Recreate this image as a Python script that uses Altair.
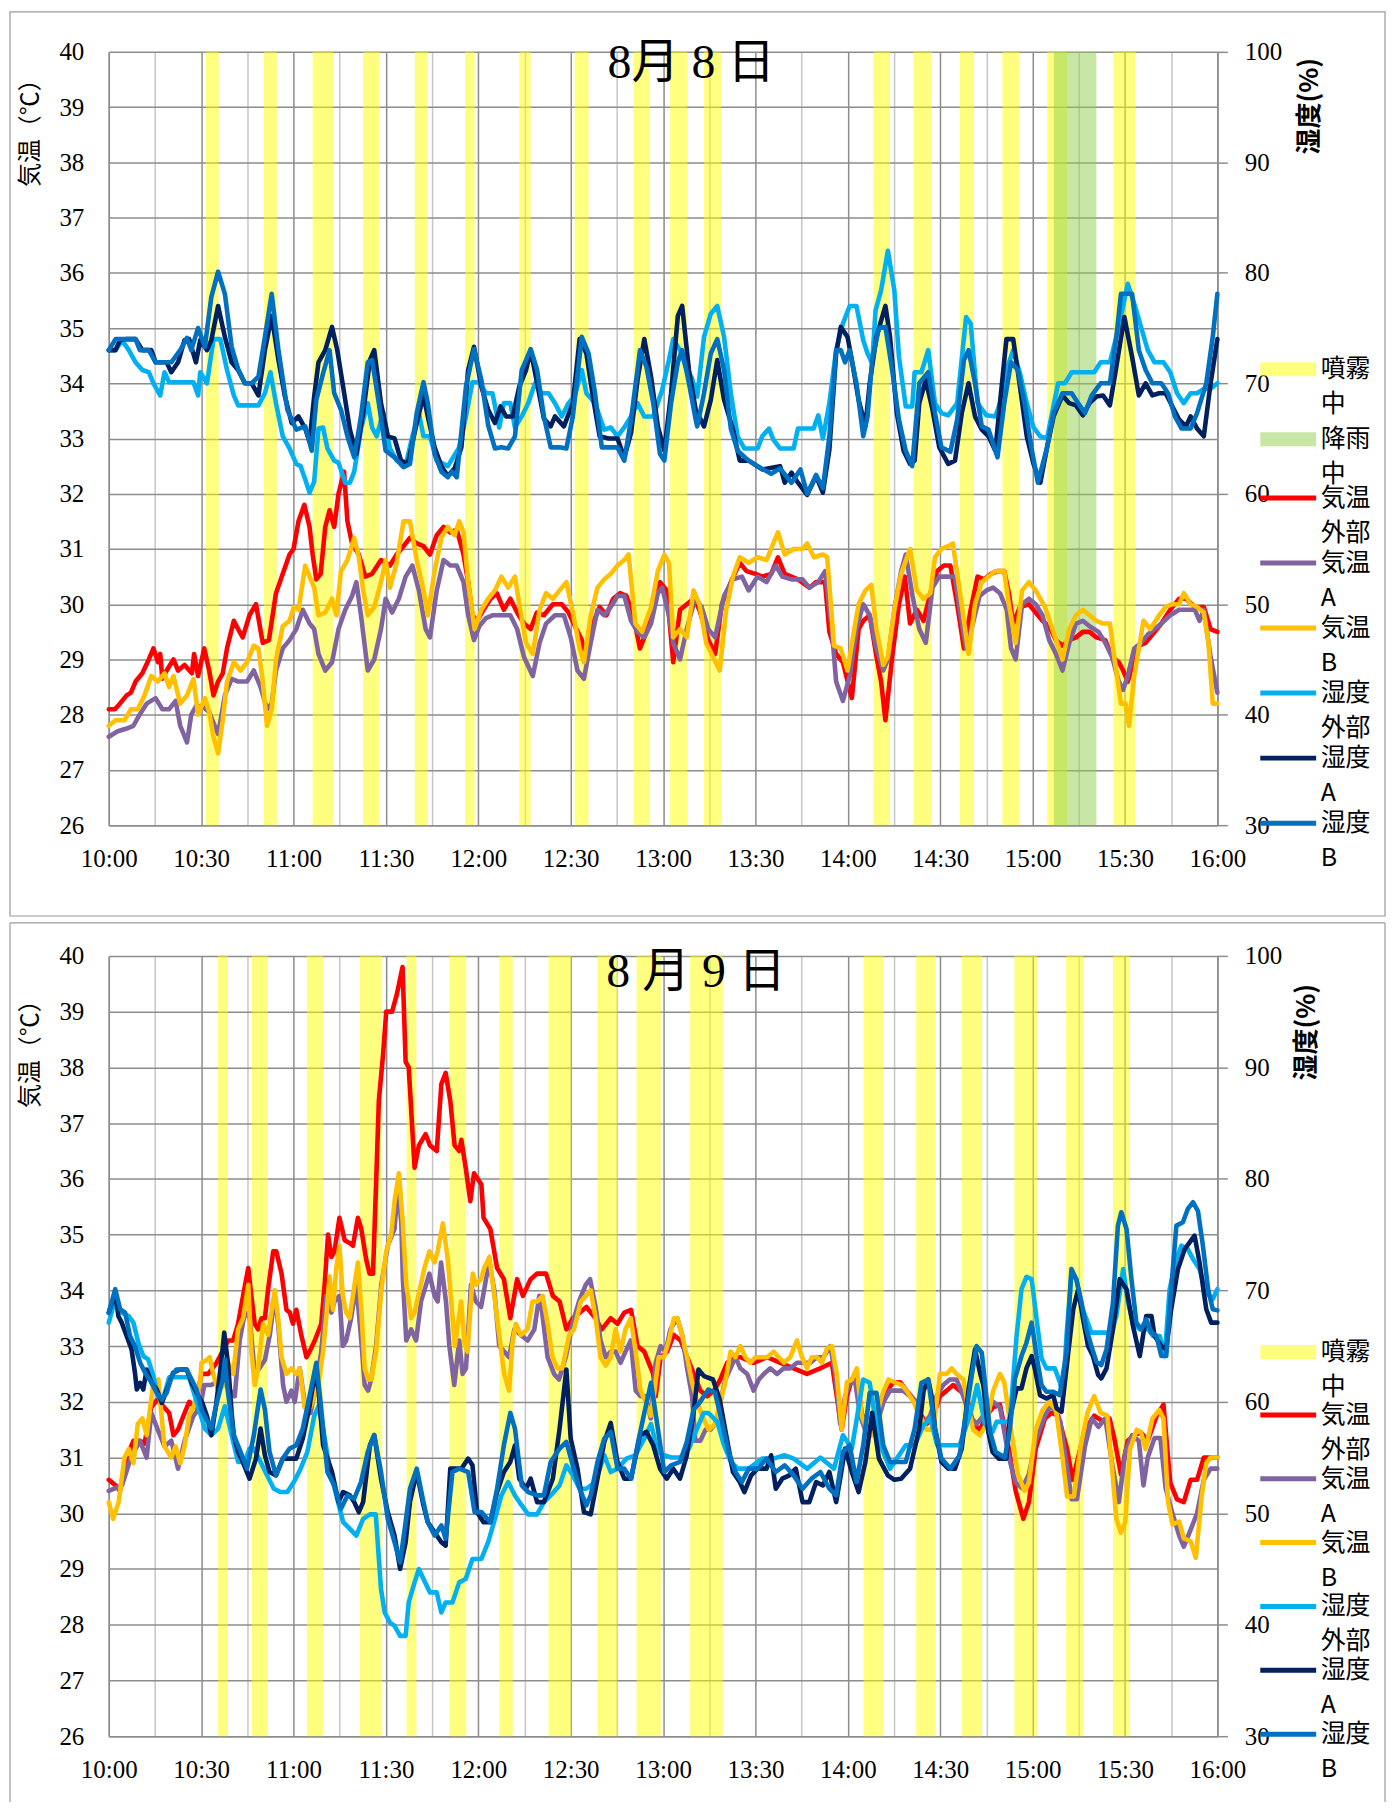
import altair as alt
import pandas as pd

# ---------------- data ----------------
SERIES = ["気温外部", "気温A", "気温B", "湿度外部", "湿度A", "湿度B"]
SERIES_COLORS = ["#FF0000", "#8064A2", "#FFC000", "#00B0F0", "#002060", "#0070C0"]
BAND_KINDS = ["噴霧中", "降雨中"]
BAND_COLORS = ["#FFFF00", "#92D050"]
DAY_TITLES = ["8月 8 日", "8 月 9 日"]

X_TICKS = list(range(0, 361, 15))          # minutes after 10:00
TEMP_TICKS = list(range(26, 41))
HUM_TICKS = list(range(30, 101, 10))

# spray / rain periods (minutes after 10:00)
AUG8_SPRAY = [(31.5, 35.7), (50.4, 54.6), (66.2, 72.9), (82.6, 88.0), (99.4, 103.6), (115.7, 118.8),
              (133.3, 137.0), (151.3, 155.8), (170.4, 175.7), (182.3, 187.8), (193.3, 198.8),
              (248.3, 253.7), (261.3, 267.3), (276.3, 281.0), (290.2, 295.7), (304.7, 311.2), (326.2, 333.5)]
AUG8_RAIN = [(306.9, 320.7)]
AUG9_SPRAY = [(35.5, 38.7), (46.4, 51.7), (64.3, 69.6), (81.6, 88.8), (96.7, 99.9), (110.6, 116.1),
              (126.8, 131.2), (142.8, 150.3), (158.7, 165.2), (171.4, 179.3), (188.8, 199.4),
              (245.1, 251.6), (262.2, 268.6), (277.0, 283.6), (294.1, 301.5), (310.9, 316.4), (326.1, 331.3)]
AUG9_RAIN = []

AUG8_TEMP_OUT = [(0,28.1),(2,28.1),(3.6,28.2),(5.8,28.35),(7.2,28.4),(8.7,28.6),(10.9,28.75),(13,29.0),(14.5,29.2),(16,28.95),(16.7,29.1),(17.4,28.65),(18.8,28.8),(21,29.0),(22.5,28.8),(24.6,28.9),(27,28.75),(27.7,29.1),(29,28.7),(31,29.2),(32.6,28.8),(34,28.35),(35.5,28.6),(37,28.75),(38.4,29.2),(40.6,29.7),(42,29.55),(43.5,29.4),(45.7,29.8),(47.8,30.0),(50,29.3),(52,29.35),(54.3,30.2),(56.5,30.55),(58.7,30.9),(60,31.0),(61.6,31.5),(63.5,31.8),(65.2,31.4),(66.2,30.9),(67.4,30.45),(68.8,30.55),(70.3,31.4),(71.7,31.7),(73.2,31.4),(74.6,32.0),(76.4,32.4),(77.5,31.5),(79,31.1),(81.2,30.9),(83.3,30.5),(85.5,30.55),(88.4,30.8),(91.3,30.7),(93.5,30.9),(95.7,31.05),(97.8,31.2),(100,31.1),(102.2,31.05),(104.3,30.9),(106.5,31.25),(108.7,31.4),(110.9,31.3),(113,31.35),(115.2,30.9),(116.7,30.4),(118.1,29.8),(119.6,29.7),(121.7,29.9),(124,30.1),(126,30.2),(128.3,29.9),(130.4,30.1),(132.6,29.85),(134.8,29.65),(137,29.55),(139,29.85),(141.3,29.8),(144.2,30.0),(147.1,30.0),(149.3,29.85),(151.4,29.6),(153.6,29.35),(155,29.0),(157.2,29.65),(159.4,29.95),(161.6,29.8),(163.8,30.1),(166,30.2),(168.1,30.15),(170.3,29.8),(172.5,29.2),(174.6,29.5),(176.8,30.1),(179,30.4),(181.2,30.25),(183.3,28.95),(185.5,29.9),(187.7,30.0),(189.9,30.1),(191.8,29.9),(194.7,29.35),(196.9,29.1),(199.1,30.0),(202,30.4),(204.9,30.75),(207.1,30.6),(210,30.55),(212.2,30.5),(215.1,30.55),(217.3,30.85),(219.5,30.55),(223.8,30.45),(227.5,30.3),(229.7,30.4),(232.6,30.4),(234,29.5),(236.2,29.1),(238.4,28.95),(240.6,28.45),(241.3,28.3),(243.5,29.55),(245,29.7),(247.1,29.8),(249.3,29.05),(250.8,28.6),(252.2,27.9),(254.4,29.05),(256.6,30.0),(258.5,30.5),(260.2,29.65),(262.4,29.9),(264.6,29.7),(266.8,30.2),(269,30.6),(271.2,30.7),(273.3,30.7),(275.5,30.0),(277.7,29.2),(279.9,29.9),(282.1,30.5),(284.3,30.45),(286.5,30.55),(288.6,30.6),(290.8,30.6),(292.3,30.2),(293.7,29.65),(295.9,29.95),(298.8,30.0),(301,29.85),(303.2,29.7),(305.4,29.6),(307.6,29.35),(309.7,29.25),(311.9,29.35),(314.1,29.4),(316.3,29.5),(318.5,29.5),(320.7,29.4),(323.6,29.35),(325.8,29.05),(328,28.95),(329.4,28.8),(330.9,28.6),(333,29.0),(334.5,29.25),(336.7,29.3),(338.9,29.45),(341.8,29.65),(344.7,29.9),(347.6,30.1),(349.8,30.1),(352.7,29.95),(355.6,29.95),(357.8,29.55),(360,29.5)]

AUG8_TEMP_A = [(0,27.6),(2.9,27.7),(5.8,27.75),(8,27.8),(10,28.0),(12.3,28.2),(15.2,28.3),(17.4,28.1),(19.6,28.1),(21.7,28.25),(23.2,27.8),(25.4,27.5),(26.8,28.0),(28.3,28.15),(30.4,28.15),(32.6,28.05),(34,27.85),(35.5,27.65),(37.7,28.35),(39.9,28.65),(42,28.6),(44.9,28.6),(47.1,28.8),(49.3,28.5),(51.4,28.1),(52.9,28.2),(54.3,28.8),(56.5,29.2),(58.7,29.35),(60.9,29.55),(63,29.9),(65.2,29.65),(66.7,29.55),(68.1,29.1),(70.3,28.8),(72.5,28.95),(74.6,29.55),(76.8,29.9),(79,30.15),(80.4,30.4),(81.9,29.8),(84.1,28.8),(86.2,29.0),(88.4,29.55),(89.9,30.1),(92,29.85),(94.2,30.1),(96.4,30.5),(98.6,30.7),(100.7,30.25),(102.9,29.55),(104.3,29.4),(106.5,30.25),(108.7,30.8),(110.9,30.7),(113,30.7),(115.2,30.4),(116.7,29.8),(118.6,29.35),(120.3,29.6),(122.5,29.75),(124.6,29.8),(127.5,29.8),(130.4,29.8),(132.6,29.55),(134.8,29.05),(137.7,28.7),(139.9,29.3),(142,29.65),(144.9,29.8),(147.8,29.8),(150,29.4),(152.2,28.8),(154.3,28.65),(156.5,29.3),(158.7,29.9),(160.9,29.8),(163,29.95),(165.2,30.15),(167.4,30.15),(169.6,29.7),(171.7,29.5),(173.9,29.4),(176.1,29.65),(178.3,30.2),(179.7,30.3),(181.9,29.8),(183.3,29.3),(185.5,29.0),(187.7,29.55),(190.4,30.1),(192.5,29.95),(194.7,29.55),(196.9,29.4),(199.8,30.15),(202.7,30.45),(205.6,30.5),(207.8,30.25),(210.7,30.5),(213.6,30.4),(216.6,30.7),(218.7,30.5),(221.7,30.45),(225.3,30.45),(227.5,30.3),(230.4,30.4),(232.6,30.6),(234.8,29.55),(236.2,28.6),(238.4,28.25),(240.6,28.7),(242.8,29.55),(245,30.0),(247.1,29.8),(249.3,29.2),(251.5,28.8),(253,29.0),(255.1,29.9),(257.3,30.6),(258.8,30.9),(261,30.15),(263.2,29.55),(265.3,29.3),(267.5,30.3),(269.7,30.5),(274.8,30.5),(276.3,29.9),(278.4,29.2),(280.6,29.65),(282.8,30.15),(285,30.25),(287.2,30.3),(289.4,30.2),(291.6,29.9),(293,29.2),(294.5,29.0),(296.6,30.0),(298.8,30.1),(301,30.0),(303.2,29.8),(305.4,29.35),(307.6,29.1),(309.7,28.8),(311.9,29.3),(314.1,29.65),(316.3,29.7),(318.5,29.6),(321.4,29.5),(323.6,29.3),(325.8,29.05),(328,28.6),(329.4,28.45),(330.9,28.7),(333,29.2),(335.2,29.3),(337.4,29.45),(339.6,29.55),(341.8,29.65),(344.7,29.8),(347.6,29.9),(352.7,29.9),(354.2,29.7),(355.6,29.9),(357.8,29.05),(360,28.4)]

AUG8_TEMP_B = [(0,27.8),(2.2,27.9),(5.1,27.9),(7.2,28.1),(9.4,28.1),(11.6,28.35),(13.8,28.7),(15.9,28.6),(18.1,28.75),(19.6,28.5),(21,28.7),(23.2,28.2),(25.4,28.35),(27.5,28.65),(29,28.0),(31.2,28.3),(32.6,28.05),(34,27.6),(35.5,27.3),(37,27.9),(38.4,28.6),(40.6,28.95),(42.8,28.8),(44.9,28.95),(47.1,29.25),(48.6,29.2),(50,28.6),(51.4,27.8),(52.9,28.1),(54.3,29.0),(56.5,29.6),(58.7,29.7),(60.1,29.95),(61.6,29.9),(63.8,30.7),(65.2,30.5),(66.7,30.3),(68.1,29.8),(70.3,29.85),(72.5,30.1),(73.9,29.8),(75.4,30.6),(77.5,30.8),(79.7,31.2),(81.2,30.85),(82.6,30.25),(84.1,29.8),(86.2,29.95),(88.4,30.4),(89.9,30.8),(91.3,30.3),(93.5,30.75),(95.7,31.5),(97.8,31.5),(100,30.8),(102.2,30.25),(103.6,29.8),(105.8,30.6),(108,31.2),(110.1,31.4),(112.3,31.25),(113.8,31.5),(115.2,31.3),(116.7,30.4),(118.8,29.55),(121,29.9),(123.2,30.1),(125.4,30.25),(127.5,30.5),(129.7,30.3),(131.9,30.5),(133.3,30.0),(135.5,29.3),(137.7,29.1),(139.9,29.9),(142,30.2),(144.2,30.1),(146.4,30.25),(148.6,30.4),(150.7,29.85),(152.9,29.2),(154.3,28.95),(156.5,29.8),(158.7,30.3),(160.9,30.45),(163,30.55),(165.2,30.7),(167.4,30.8),(168.8,30.9),(171,29.65),(173.2,29.5),(176.1,29.95),(178.3,30.6),(180.4,30.9),(181.9,30.75),(183.3,29.4),(185.5,29.55),(187.7,29.4),(189.9,30.25),(191.8,30.0),(194,29.3),(196.2,29.05),(198.4,28.8),(200.5,29.9),(202.7,30.5),(204.9,30.85),(207.8,30.75),(210.7,30.85),(213.6,30.8),(215.8,31.1),(217.3,31.3),(219.5,30.9),(222.4,31.0),(225.3,31.0),(226.8,31.1),(229,30.85),(231.9,30.9),(233.3,30.85),(235.5,29.25),(237.7,29.2),(239.9,28.8),(242.1,29.55),(243.5,30.0),(245.7,30.25),(247.6,30.35),(249.3,29.55),(251.5,28.9),(253,29.05),(255.1,29.9),(257.3,30.55),(260.2,31.0),(262.4,30.25),(264.6,30.1),(266.8,30.2),(268.3,30.85),(270.4,31.0),(272.6,31.05),(274.1,31.1),(276.3,30.25),(279.2,29.1),(281.3,30.0),(283.5,30.4),(285.7,30.5),(287.9,30.6),(290.8,30.6),(292.3,30.0),(294.5,29.3),(296.6,30.25),(298.8,30.4),(301,30.25),(304,29.95),(306.1,29.6),(308.3,29.25),(309.7,29.0),(311.9,29.55),(314.1,29.8),(316.3,29.9),(318.5,29.8),(320.7,29.7),(322.9,29.65),(325.1,29.65),(326.5,29.05),(328.7,28.2),(330.2,28.2),(331.3,27.8),(333,28.7),(334.5,29.2),(336,29.7),(338.2,29.55),(341.1,29.8),(343.2,29.95),(345.4,30.0),(347.6,30.0),(349.1,30.2),(351.3,30.0),(353.4,29.95),(355.6,29.85),(357.1,29.3),(358.5,28.2),(360,28.2)]

AUG8_HUM_OUT = [(0,73.0),(2.2,73.0),(4.3,73.9),(6.5,73.0),(8.7,71.9),(10.9,71.2),(13,71.0),(14.5,70.0),(16.7,68.9),(18.1,71.0),(19.6,70.1),(27.5,70.1),(29,68.9),(29.7,71.0),(31.9,70.0),(34,74.0),(36.2,74.0),(38.4,71.2),(40.6,68.9),(42,68.0),(48.6,68.0),(50.7,69.1),(52.5,71.0),(54.3,68.2),(56.5,65.2),(58.7,64.1),(60.9,62.7),(62.3,62.5),(63.8,61.3),(65.2,60.1),(66.7,61.1),(68.1,65.9),(69.6,66.0),(71,64.1),(73.2,63.0),(74.6,62.8),(76.8,61.0),(78.3,61.0),(79.7,62.0),(82,66.0),(84.1,68.2),(85.5,66.0),(87,65.2),(89.1,67.4),(91.3,64.1),(93.5,63.0),(96.4,62.6),(98.6,65.2),(100.7,67.3),(102.2,65.2),(104.3,65.2),(106.5,63.0),(110.1,62.5),(113.8,64.2),(116,67.0),(118.1,70.1),(120.3,70.1),(122.5,69.1),(124.6,69.1),(126.8,66.0),(128.3,68.2),(130.4,68.2),(131.9,66.0),(134.1,67.0),(136.2,68.2),(138.4,70.0),(140.6,69.1),(142.8,69.1),(144.9,68.2),(147.1,67.0),(149.3,68.2),(151.4,68.9),(153.6,71.2),(155.1,69.1),(157.9,68.2),(160.9,65.8),(163,66.0),(165.2,65.2),(167.4,66.0),(169.6,67.0),(171.7,68.2),(173.9,67.0),(176.8,67.0),(179.7,69.4),(181.9,72.1),(183.3,74.0),(185.5,73.0),(187.7,71.2),(189.3,70.5),(191.1,68.8),(193.3,74.2),(195.5,76.3),(197.6,77.0),(199.8,74.2),(202,69.1),(204.2,65.2),(206.4,64.1),(210.7,64.1),(212.2,65.2),(214.4,65.9),(215.8,64.9),(218,64.1),(222.4,64.1),(223.8,65.9),(228.9,65.9),(230.4,67.1),(231.9,65.0),(234,68.2),(236.2,73.0),(238.4,75.4),(240.6,77.0),(242.8,77.0),(245,73.9),(246.4,72.7),(247.9,71.8),(249,76.6),(250.8,78.4),(253,82.0),(255.1,78.4),(256.6,72.4),(258.8,67.9),(260.9,67.9),(261.7,71.0),(263.9,71.0),(266.1,73.0),(268.3,68.2),(270.4,67.3),(272.6,67.1),(275.5,68.2),(278.4,76.0),(279.9,75.4),(282.1,68.2),(285,67.1),(287.9,67.0),(289.4,68.2),(291.5,71.2),(293.7,73.0),(295.9,70.9),(298.1,68.2),(300.3,66.0),(302.5,65.2),(304.7,65.0),(306.1,67.0),(308.3,70.0),(310.5,70.0),(312.7,71.0),(320,71.0),(322.1,71.9),(325.1,71.9),(327.2,74.2),(329.4,77.0),(330.9,79.0),(333,77.2),(335.2,75.1),(337.4,73.0),(339.6,71.9),(342.5,71.9),(344.7,71.0),(346.9,69.1),(349.1,68.2),(351.3,69.1),(353.4,69.1),(355.6,69.5),(357.8,69.5),(360,70.0)]

AUG8_HUM_A = [(0,73.0),(2.2,73.0),(3.6,73.9),(5.8,74.0),(8.7,74.0),(10.9,73.0),(13.8,73.0),(15.2,71.9),(18.8,71.9),(20.3,71.0),(22.5,71.9),(24.6,73.9),(26.1,74.0),(28.3,71.9),(29.7,73.9),(31.9,73.0),(33.3,73.9),(35.5,77.0),(37.7,74.2),(39.9,71.9),(42,71.2),(44.2,70.0),(46.4,70.0),(48.6,68.9),(50.7,73.0),(52.9,76.1),(55.1,72.1),(57.2,68.8),(59.4,66.4),(61.6,67.0),(63.8,65.9),(65.2,64.7),(66.7,68.8),(68.1,71.9),(70.3,73.0),(72.5,75.1),(74.2,73.0),(76.1,69.7),(78.3,65.8),(80.4,63.6),(82.6,67.3),(84.8,72.1),(86.2,73.0),(88.4,68.2),(90.6,65.2),(92.8,65.0),(94.9,63.0),(97.1,62.7),(100,66.4),(102.2,68.9),(103.6,67.0),(105.8,64.2),(108,62.5),(110.1,61.6),(112.3,62.3),(114.5,64.2),(116.7,71.2),(118.6,73.3),(121,69.7),(123.2,67.6),(125.4,66.4),(127.2,67.9),(129,67.0),(131.2,67.0),(133.3,69.7),(135.5,71.2),(137,73.0),(139.1,70.0),(141.3,66.8),(143.5,66.1),(144.9,67.0),(147.8,66.1),(150.7,68.2),(152.9,74.0),(155.1,72.7),(157.2,68.8),(159.4,65.2),(162.3,65.0),(165.2,65.0),(167.4,63.3),(169.6,65.5),(171.7,70.3),(173.9,74.0),(176.1,70.6),(178.3,66.1),(180.4,63.9),(182.6,69.1),(184.8,76.1),(186.2,77.0),(188.4,71.2),(190.6,67.6),(193.3,66.1),(195.5,68.5),(197.6,72.1),(199.8,68.5),(202.7,65.8),(204.9,63.0),(207.8,63.0),(212.2,62.2),(218,62.5),(219.5,61.0),(221.7,61.9),(223.8,61.0),(226.8,59.9),(229.7,61.6),(231.9,60.1),(234,64.0),(236.2,72.7),(237.7,75.1),(239.9,74.2),(241.3,72.1),(243.5,68.5),(245.7,66.1),(247.1,70.0),(249.3,74.2),(252.2,77.0),(253.7,74.2),(255.9,67.3),(258.1,63.9),(260.2,62.7),(261.7,63.0),(263.2,68.2),(265.3,70.3),(267.5,67.6),(269.7,64.2),(272.6,62.7),(274.8,63.0),(277,67.3),(279.2,70.0),(281.3,67.0),(283.5,65.8),(285.7,65.2),(287.9,63.9),(289.4,68.2),(291.5,74.0),(293.7,74.0),(295.9,69.7),(298.1,65.2),(300.3,62.7),(302.5,61.0),(304.7,64.2),(306.8,67.0),(309.7,68.9),(311.9,68.2),(314.1,68.0),(316.3,67.1),(318.5,68.2),(320.7,68.8),(322.9,68.9),(325.1,68.0),(327.2,71.5),(329.8,76.0),(332.3,72.4),(334.5,68.9),(336.7,70.0),(338.9,68.9),(341.1,69.1),(343.2,69.1),(345.4,67.9),(347.6,66.7),(349.8,66.1),(351.3,67.0),(353.4,65.9),(355.6,65.2),(357.8,70.0),(360,74.0)]

AUG8_HUM_B = [(0,73.0),(2.2,74.0),(8.7,74.0),(10.1,73.0),(13,73.0),(15.2,71.9),(20.3,71.9),(23.2,73.0),(25.4,74.1),(26.8,73.0),(29,75.0),(31.2,73.3),(33.3,77.8),(35.5,80.1),(37.7,78.1),(39.9,73.3),(42,71.3),(44.2,70.0),(46.4,70.0),(48.6,70.6),(50.7,74.2),(52.9,78.1),(55.1,73.0),(58,67.6),(60.9,65.8),(63.8,66.1),(65.9,63.9),(67.4,68.5),(69.6,70.9),(71.7,73.0),(73.2,69.1),(75.4,67.6),(77.5,65.2),(79.7,63.3),(81.9,67.0),(84.1,71.9),(85.5,72.1),(87.7,68.2),(89.9,63.9),(92.8,63.3),(95.7,62.4),(97.8,62.7),(100,67.3),(102.2,70.1),(103.6,68.2),(105.8,63.6),(108,62.0),(110.1,61.5),(111.5,62.0),(113,61.5),(116,69.7),(118.6,73.1),(121,70.3),(123.2,66.2),(125.4,64.1),(127.5,64.2),(129.7,64.1),(131.9,65.2),(134.1,71.2),(137,73.1),(139.1,71.2),(141.3,67.0),(143.5,64.2),(146.4,64.2),(148.6,64.1),(150.7,67.0),(153.6,74.2),(155.8,72.7),(157.9,69.1),(160.1,64.2),(165.2,64.2),(167.4,63.0),(169.6,66.7),(172.5,73.0),(174.6,71.5),(176.8,68.2),(179,63.6),(180.4,63.0),(182.6,68.2),(184.8,71.9),(186.2,73.0),(188.4,70.0),(190.6,66.7),(191.1,66.1),(193.3,69.1),(195.5,72.7),(197.6,74.0),(199.8,71.2),(202,65.9),(204.2,63.9),(207.8,63.0),(210.7,62.5),(215.1,61.8),(218,62.3),(221.7,61.0),(224.6,62.2),(226.8,60.0),(229.7,61.7),(231.9,60.5),(234,65.2),(236.2,73.0),(237.7,73.0),(239.1,71.9),(240.6,73.0),(242.8,70.0),(245,65.2),(246.4,67.0),(247.9,72.1),(250.1,75.0),(252.2,75.1),(254.4,71.2),(256.6,66.7),(258.8,63.9),(260.9,62.5),(263.2,70.0),(266.1,71.0),(268.3,67.3),(270.4,64.2),(273.3,63.8),(275.5,66.7),(277.7,72.1),(279.2,73.0),(281.3,70.0),(283.5,66.1),(285.7,65.8),(288.6,63.3),(290.8,68.2),(293,71.9),(295.2,71.2),(297.4,68.2),(299.6,64.2),(301.7,61.0),(304.7,64.2),(306.8,67.3),(309.7,69.1),(312.7,69.1),(314.8,68.2),(317,67.3),(319.2,68.9),(322.1,70.0),(325.1,70.0),(327.2,74.2),(328.7,78.1),(332.3,78.1),(334.5,73.0),(336.7,71.2),(338.9,70.0),(341.8,70.0),(344,69.1),(346.2,67.0),(348.4,65.9),(351.3,65.9),(353.4,67.3),(356.4,70.0),(358.5,74.2),(360,78.1)]

AUG9_TEMP_OUT = [(0,30.6),(2.2,30.5),(3.6,30.4),(5.8,31.0),(8,31.3),(10.1,31.3),(11.6,31.25),(13.8,31.9),(15.9,32.05),(17.2,31.95),(19.6,31.8),(21,31.4),(22.5,31.5),(23.9,31.7),(26.1,32.0),(28,31.9),(30.1,32.5),(32.3,32.5),(35,32.7),(38.8,33.1),(40.4,33.1),(42,33.4),(43.6,33.9),(45.3,34.4),(46.3,33.9),(47.4,33.4),(48.5,33.3),(49.6,33.5),(50.7,33.5),(51.7,34.0),(53.4,34.7),(54.4,34.7),(56.1,34.3),(57.7,33.65),(58.8,33.6),(59.8,33.4),(60.9,33.65),(62.5,33.2),(64.2,32.8),(65.2,32.9),(66.9,33.1),(69,33.4),(70.1,34.1),(71.2,35.0),(72.3,34.6),(73.3,34.7),(74.9,35.3),(76.6,34.9),(78.2,34.85),(79.3,34.8),(80.9,35.3),(82,35.1),(83.6,34.55),(84.7,34.3),(85.8,34.3),(86.8,35.9),(87.7,37.4),(89.1,38.25),(90.1,39.0),(92,39.0),(93.5,39.3),(95.4,39.8),(96.4,38.1),(97.4,38.0),(99.3,36.2),(100.7,36.6),(102.9,36.8),(104.3,36.6),(106.5,36.5),(108,37.7),(109.4,37.9),(110.9,37.4),(112.3,36.6),(113.8,36.5),(114.5,36.7),(115.9,36.2),(117.4,35.6),(118.6,36.1),(121,35.9),(121.7,35.3),(123.9,35.1),(126.1,34.4),(128.3,34.2),(130.4,33.5),(132.6,34.2),(134.5,33.9),(137,34.2),(139.1,34.3),(142,34.3),(144.2,33.9),(146.4,33.8),(148.6,33.3),(150.7,33.5),(152.9,33.6),(155.1,33.7),(158,33.5),(160.1,33.3),(163,33.5),(165.2,33.4),(167.4,33.6),(169.6,33.65),(171.7,33.0),(173.9,32.9),(176.8,32.5),(177.6,32.1),(179.2,32.8),(181.3,32.9),(183.5,33.2),(185.7,33.1),(187.8,32.8),(190,32.5),(192.1,32.2),(194.3,32.1),(196.5,32.2),(198.6,32.4),(200.8,32.7),(203,32.8),(205.1,32.8),(209.4,32.7),(213.8,32.8),(218.1,32.7),(222.4,32.6),(226.7,32.5),(231,32.6),(234.8,32.7),(236.4,32.1),(238,31.5),(239.7,32.1),(241.3,32.4),(242.9,32.5),(244.5,31.8),(246.7,31.4),(248.3,31.5),(250.5,32.0),(252.6,32.2),(254.8,32.35),(257,32.35),(259.1,32.2),(261.3,32.05),(263.4,31.8),(265.6,31.6),(267.8,31.75),(269.9,32.1),(272.1,32.2),(274.2,32.3),(276.4,32.2),(278.6,32.1),(280.7,31.6),(282.9,31.5),(285,31.75),(287.2,31.9),(289.4,31.95),(292.3,31.15),(294.5,30.4),(297,29.9),(298.8,30.2),(301,31.15),(304,31.7),(306.1,31.8),(308.3,31.75),(311.2,31.15),(313,30.6),(314.8,31.0),(317,31.5),(320,31.75),(322.8,31.65),(325,31.7),(326.5,31.35),(328.7,30.7),(330.9,31.3),(333,31.4),(335.2,31.45),(337.4,31.3),(340.3,31.75),(342.5,31.95),(344.7,30.55),(346.9,30.25),(349.1,30.2),(351.3,30.6),(353.4,30.6),(355.6,31.0),(357.8,31.0),(360,31.0)]

AUG9_TEMP_A = [(0,30.4),(4.3,30.5),(7.2,31.0),(10.1,31.3),(12.3,31.0),(13.8,31.8),(15.9,31.5),(18.1,31.2),(20.3,31.3),(22.5,30.8),(24.6,31.3),(27.5,31.75),(29.7,31.9),(31,32.3),(33.3,32.3),(36.6,32.4),(40.9,32.1),(42.5,33.1),(44.2,33.6),(45.8,33.5),(47.4,32.5),(48.9,32.6),(50.7,32.75),(52.3,33.2),(53.9,33.9),(55,33.4),(56.6,32.3),(57.7,32.0),(59.3,32.2),(60.4,32.0),(62,32.6),(63.6,32.0),(65.5,31.8),(67,32.2),(69,32.9),(70.6,33.9),(72.3,33.6),(73.3,33.8),(74.9,33.9),(76,33.0),(77.1,33.1),(78.7,33.5),(80.4,34.1),(82,33.1),(83.1,32.3),(84.2,32.2),(85.2,32.4),(86.8,33.0),(88.5,34.1),(90.6,34.8),(92.8,35.1),(93.9,35.9),(95,35.2),(95.5,34.2),(96.6,33.1),(98.2,33.3),(99.8,33.1),(101.4,33.8),(102.5,34.0),(104.1,34.3),(105.8,33.9),(106.8,33.8),(107.9,34.5),(109.5,33.8),(110.6,33.0),(112.2,32.3),(113.8,33.1),(114.9,32.5),(116,32.6),(117.6,34.1),(119.2,33.8),(120.9,33.7),(122.5,34.2),(123.6,34.5),(125.2,34.0),(126.8,33.0),(128.4,32.9),(130,32.8),(131.7,33.3),(133.8,33.2),(136,33.1),(138.2,33.3),(139.8,33.9),(140.3,33.8),(142.5,32.8),(144.6,32.5),(146.2,32.4),(148.4,32.8),(150.6,33.4),(152.7,33.8),(154.9,34.1),(156.3,34.2),(158.1,33.7),(159.7,33.1),(161.4,32.8),(163,32.9),(164.6,32.9),(166.2,32.7),(167.8,32.9),(169.5,33.1),(171.1,32.2),(172.7,32.1),(174.3,32.1),(176,31.7),(177.6,32.7),(179.2,33.0),(180.8,32.9),(182.4,33.3),(184.6,33.5),(186.2,33.2),(187.8,32.6),(189.4,32.1),(190.5,31.3),(192.1,31.3),(193.8,31.5),(195.4,31.5),(197,31.6),(198.6,32.0),(200.2,32.4),(201.9,32.6),(203.5,32.8),(205.1,32.6),(207.3,32.5),(209.4,32.2),(211.1,32.4),(212.7,32.5),(214.8,32.6),(217,32.5),(219.2,32.6),(221.3,32.6),(223.5,32.7),(227.8,32.7),(230,32.8),(232.1,32.8),(234.3,33.0),(235.9,32.5),(237.5,31.6),(239.1,32.1),(240.8,32.35),(242.4,32.35),(244,31.75),(245.6,31.5),(247.2,31.5),(249.4,31.6),(251.6,32.0),(253.7,32.2),(255.9,32.2),(258,32.2),(260.2,32.1),(262.4,32.0),(264.5,31.6),(266.7,31.75),(268.8,32.1),(271,32.3),(273.1,32.4),(275.3,32.4),(277.5,32.1),(279.6,31.75),(281.8,31.6),(284,31.75),(287.2,32.0),(289.4,31.9),(292.3,31.0),(294.5,30.55),(296.6,30.45),(298.8,30.7),(301,31.3),(304,31.75),(306.1,31.95),(309,31.65),(311.2,30.8),(312.7,30.25),(314.4,30.25),(317,31.2),(319.2,31.7),(321.4,31.55),(323.6,31.7),(325.8,30.9),(328,30.2),(330.1,31.1),(332.3,31.4),(334.5,31.3),(336,30.5),(337.4,31.0),(339.6,31.35),(341.5,31.35),(343.2,30.45),(345.4,30.0),(347.6,29.6),(349.1,29.4),(351.3,29.7),(353.4,30.0),(355.6,30.6),(357.8,30.8),(360,30.8)]

AUG9_TEMP_B = [(0,30.2),(1.4,29.9),(3.2,30.2),(5.1,31.0),(6.5,31.15),(8,30.9),(9.4,31.6),(10.9,31.7),(12.3,31.4),(14.5,32.35),(16.1,32.4),(16.7,32.0),(18.1,31.2),(20.3,31.0),(21.7,31.2),(23.2,30.9),(24.6,31.2),(26.1,31.75),(27.5,31.9),(29.7,32.35),(30.1,32.7),(31.8,32.75),(32.8,32.8),(33.9,32.5),(35.5,32.2),(37.2,32.3),(38.8,32.7),(40.4,32.5),(42,33.3),(43.6,33.5),(45.3,34.1),(46.3,32.9),(47.4,32.3),(48.5,32.6),(50.1,33.4),(51.7,33.2),(53.9,34.0),(55,33.5),(56.1,32.8),(57.7,32.5),(59.3,32.6),(60.9,32.5),(62,32.6),(63.6,31.9),(65.5,31.9),(68,32.3),(69.6,32.9),(70.6,33.5),(71.7,34.25),(72.8,33.65),(73.9,34.4),(74.9,34.8),(76,33.9),(77.1,33.6),(78.2,33.5),(79.8,34.1),(80.9,34.5),(82,33.65),(83.1,32.6),(84.2,32.4),(85.2,32.4),(86.8,32.9),(88.5,34.0),(90.1,34.7),(91.7,35.0),(92.8,35.6),(94.2,36.1),(95.5,35.2),(96.6,34.1),(98.2,33.5),(99.3,33.6),(100.9,34.0),(102.5,34.4),(104.1,34.7),(105.8,34.5),(106.8,34.7),(108.5,35.2),(110.1,34.55),(111.2,33.8),(112.4,33.0),(114.4,33.8),(115.5,33.05),(116.5,32.9),(118.2,34.3),(119.2,34.1),(120.9,34.2),(121.9,34.4),(123.6,34.6),(125.2,33.9),(126.8,33.2),(128.4,32.5),(130,32.2),(131.1,33.05),(132.2,33.4),(133.8,33.2),(136,33.3),(137.6,33.8),(139.2,33.8),(140.9,33.9),(142.5,33.4),(144.1,32.8),(145.7,32.6),(147.3,32.6),(149.5,33.2),(151.1,33.3),(153.3,33.8),(154.9,33.9),(156.5,34.0),(158.1,33.5),(159.7,32.8),(161.4,32.65),(163,32.8),(164.6,33.3),(166.2,32.9),(167.8,33.3),(169.5,33.5),(171.1,32.9),(172.7,32.2),(174.3,32.0),(176,31.75),(177,32.1),(178.6,32.8),(180.3,32.8),(181.9,33.1),(183.5,33.5),(184.6,33.5),(186.2,33.2),(187.8,32.8),(189.4,32.35),(191.1,32.0),(192.7,31.75),(194.8,31.5),(197,31.6),(198.6,32.0),(200.2,32.35),(201.9,32.9),(203.5,32.8),(205.1,33.0),(206.7,32.8),(208.3,32.7),(210,32.8),(213.8,32.8),(215.9,32.9),(217.5,32.8),(219.2,32.7),(221.3,32.8),(223.5,33.1),(225.1,32.8),(226.7,32.6),(228.3,32.8),(230,32.8),(231.6,32.7),(233.2,32.95),(234.8,33.0),(236.4,32.5),(238,31.5),(239.7,32.35),(241.3,32.4),(242.9,32.6),(244.5,31.75),(246.2,31.5),(247.8,31.4),(249.4,31.75),(251,32.1),(253.2,32.4),(255.3,32.35),(257.5,32.3),(259.1,32.2),(261.3,32.0),(263.4,31.75),(265.6,31.5),(267.8,31.5),(269.9,32.5),(272.1,32.5),(273.7,32.6),(275.3,32.5),(277.5,32.4),(279.1,31.9),(280.7,31.5),(282.9,31.4),(285,31.6),(287.2,32.2),(289.4,32.5),(290.8,32.35),(293,31.5),(295.2,30.7),(297.4,30.4),(298.8,30.55),(301,31.5),(303.2,31.85),(305.4,32.0),(307.6,31.85),(309.7,31.0),(311.2,30.3),(313.4,30.3),(315.6,31.2),(317.8,31.8),(320,32.1),(322.1,31.8),(324.3,31.75),(325.8,30.8),(327.2,29.9),(328.7,29.65),(330.1,29.85),(331.6,31.15),(333.8,31.5),(335.2,31.45),(336.7,31.15),(338.9,31.7),(341.1,31.85),(342.5,31.7),(344,30.2),(345.4,29.8),(347.6,29.85),(349.1,29.55),(351.3,29.5),(353,29.2),(354.9,30.3),(356.4,30.9),(357.8,31.0),(360,31.0)]

AUG9_HUM_OUT = [(0,67.1),(2.1,69.2),(4.2,68.0),(6.4,67.7),(8,67.1),(9.6,65.3),(11.2,64.1),(12.8,63.8),(14.5,62.3),(15.9,60.5),(17.4,60.0),(19.6,62.2),(23.2,62.2),(26.1,62.2),(29,59.6),(31.2,57.6),(33.3,57.0),(35.5,57.6),(37.7,59.6),(39.9,57.0),(42,54.6),(44.2,54.6),(45.7,55.8),(47.1,55.8),(49.3,54.6),(51.4,53.4),(53.6,52.2),(55.8,51.9),(58,51.9),(60.1,52.8),(62.3,54.0),(64.5,55.5),(66.7,58.7),(68.1,59.6),(69.6,57.6),(71.7,54.0),(73.9,51.6),(76.1,49.2),(78.3,48.6),(80.4,48.0),(82.6,49.5),(84.8,49.9),(86.7,49.9),(88.4,43.2),(89.6,41.1),(91.3,40.2),(92.8,39.9),(94.6,39.0),(96.4,39.0),(97.4,42.0),(99.3,43.8),(100.7,45.0),(102.2,44.1),(104.3,42.9),(106.5,42.9),(108,41.1),(109.4,42.0),(111.6,42.0),(113.8,43.8),(115.9,44.1),(118.1,45.9),(121,45.9),(123.2,47.4),(125.4,49.5),(127.5,51.6),(129.7,52.8),(131.9,51.6),(134.1,50.7),(136.2,49.9),(139.1,49.9),(141.3,51.0),(143.5,51.6),(146.4,52.5),(148.6,54.3),(150.7,53.4),(152.9,52.2),(155.1,52.2),(158,52.8),(160.9,55.2),(163,53.7),(165.2,54.0),(168.1,54.9),(171,55.2),(173.9,56.7),(176.1,58.0),(178.3,55.5),(180.4,55.2),(182.6,55.0),(185.5,55.0),(188.4,55.8),(190.6,57.3),(193.2,59.0),(194.7,59.0),(197.6,58.2),(199.8,56.1),(202,54.6),(204.2,54.0),(207.8,54.0),(212.2,54.9),(215.8,54.9),(219.5,55.2),(222.4,54.9),(226.8,54.0),(231.1,55.0),(235.5,54.0),(238.4,57.0),(241.3,55.8),(245,62.0),(247.1,61.7),(250.1,56.4),(253.7,54.0),(255.9,54.9),(258.8,56.1),(261.7,56.1),(264.6,57.9),(266.8,58.5),(269,56.1),(276.3,56.1),(279.9,59.0),(282,61.5),(284.5,58.0),(287,57.3),(288.3,58.2),(292.6,58.2),(294.8,65.9),(296.4,70.1),(298,71.2),(299.7,71.0),(301.3,67.4),(302.9,63.9),(304.5,63.0),(307.2,63.0),(308.8,61.8),(309.9,60.6),(311,65.9),(312.6,71.5),(314.2,71.0),(316,68.5),(317.5,67.4),(319.1,66.2),(325.6,66.2),(327.2,67.7),(329.4,71.9),(331,68.9),(332.6,67.1),(334.8,66.5),(337.5,66.5),(339.1,65.9),(341.3,65.9),(342.9,64.1),(344.5,70.1),(346.7,72.8),(348.3,74.0),(350.4,73.7),(352.1,72.8),(354.2,71.9),(356.4,69.8),(358.5,69.2),(360,70.1)]

AUG9_HUM_A = [(0,68.0),(2.1,69.8),(3.1,67.7),(4.2,67.1),(5.8,65.9),(7.4,64.7),(8.5,62.6),(9.1,61.1),(10.2,61.7),(11.2,61.1),(12.3,62.9),(13.9,61.7),(15.6,61.1),(17.2,59.9),(19.3,61.4),(20.9,62.6),(23.1,62.9),(25.3,62.9),(26.9,61.7),(29.1,60.5),(30.4,59.9),(31.9,58.7),(33.3,57.0),(34.8,59.6),(36.5,63.5),(37.5,66.2),(38.8,63.2),(39.9,59.0),(40.6,57.0),(42,55.5),(43.5,54.6),(45.7,53.1),(47.8,54.9),(49.3,57.6),(50.7,55.2),(52.2,53.7),(54.3,53.4),(56.5,54.9),(58.7,54.9),(60.9,54.9),(63,56.7),(65.2,59.6),(66.9,62.6),(68.1,61.1),(69.6,56.1),(72.5,53.7),(74.6,51.0),(76.1,51.9),(78.3,51.6),(79.7,51.0),(81.2,50.1),(82.6,51.0),(84.8,56.1),(86.2,57.0),(88.4,53.1),(90.6,50.1),(92.8,48.0),(94.6,45.0),(96.4,47.4),(97.8,51.0),(100,53.7),(102.2,50.7),(103.6,49.2),(105.8,48.3),(108,47.4),(109.4,47.1),(110.9,54.0),(114.5,54.0),(116.7,54.9),(118.1,54.3),(119.6,50.1),(121.7,49.2),(123.9,49.2),(126.1,51.9),(128.3,53.7),(130.4,54.6),(131.9,56.1),(133.3,53.1),(135.5,52.2),(137,53.1),(139.1,51.0),(141.3,51.0),(144.2,53.1),(146.4,57.6),(148.6,62.9),(150,56.7),(152.2,54.0),(154.3,50.1),(156.5,49.9),(158.7,53.1),(160.9,56.4),(163,58.1),(165.2,54.6),(167.4,53.1),(169.6,53.1),(172.5,57.0),(174.6,57.3),(176.8,56.1),(179,54.0),(181.2,53.1),(183.3,54.0),(185.5,53.1),(187.7,55.2),(189.9,59.0),(191.5,62.9),(193.3,62.3),(196.2,62.0),(198.4,60.2),(200.5,57.0),(202.7,53.7),(204.9,52.8),(206.4,51.9),(208.6,53.4),(210.7,54.0),(213.6,54.0),(215.1,55.2),(216.6,52.2),(218.7,53.1),(221,53.4),(223.1,54.0),(225.3,51.0),(227.5,51.0),(229.7,52.8),(231.9,52.5),(234,53.7),(236.2,51.0),(237.7,53.4),(239.1,55.8),(241.3,53.7),(243.5,51.9),(245.7,54.6),(247.9,59.0),(250.1,54.9),(253,53.4),(255.1,53.0),(257.3,53.1),(260.2,54.0),(263.2,57.6),(264.6,61.0),(266.1,62.0),(267.2,60.5),(268.3,57.6),(270.4,54.6),(272.6,54.0),(274.8,54.0),(277,55.8),(279.2,61.1),(281.3,64.7),(283,62.5),(284,61.5),(285.6,57.3),(287,55.5),(289,54.9),(291.5,54.9),(292.6,58.5),(294.8,61.2),(296.4,61.2),(298,63.0),(299.7,64.1),(300.7,63.0),(302.4,60.6),(304.5,60.3),(306.7,60.6),(307.8,59.4),(309.4,59.1),(311,63.0),(313.2,68.3),(314.8,70.1),(316.4,67.4),(318,65.0),(319.6,64.1),(321.3,62.4),(322.3,62.1),(324,63.0),(326.1,66.5),(328.3,71.0),(330.5,70.1),(332.6,66.8),(334.8,64.1),(336.9,67.7),(338.6,67.7),(339.6,65.9),(341.8,65.0),(343.4,64.7),(345,68.3),(347.2,71.9),(349.4,73.7),(351,74.3),(352.6,74.9),(354.2,72.5),(356.4,68.3),(358,67.1),(360,67.1)]

AUG9_HUM_B = [(0,68.0),(2.1,70.1),(3.7,68.3),(5.3,68.0),(6.9,65.9),(8.5,65.0),(10.2,63.5),(11.8,62.6),(13.9,61.7),(15.6,60.8),(17.2,60.2),(18.8,60.8),(20.4,62.3),(22,62.9),(25.3,62.9),(26.9,62.0),(28.5,61.1),(30.1,59.3),(31.2,58.7),(33.3,57.6),(34.8,59.6),(37,62.0),(37.7,63.8),(38.4,61.5),(39.3,59.6),(40.6,57.0),(42.8,55.5),(44.9,54.0),(47.1,57.0),(49.3,61.1),(50.7,59.3),(52.2,55.5),(54.3,53.4),(56.5,54.9),(58.7,55.8),(60.9,56.1),(63,57.6),(65.2,60.5),(67.4,63.5),(68.8,59.9),(71,53.7),(73.2,52.5),(75.4,50.4),(77.5,51.6),(79.7,51.3),(81.9,52.8),(84.1,55.5),(86.2,57.0),(88.4,53.7),(90.6,49.5),(92.8,47.4),(94.6,45.6),(96.4,49.2),(97.8,52.2),(100,54.0),(102.2,51.0),(103.6,49.2),(105.8,48.0),(108,48.9),(109.4,47.7),(111.6,53.7),(113.8,54.0),(116.7,53.7),(118.8,50.1),(121,50.1),(123.9,49.2),(126.1,52.2),(128.3,56.1),(130.4,59.0),(131.9,57.6),(134.1,52.5),(136.2,51.9),(139.1,51.6),(141.3,51.6),(143.5,54.6),(146.4,55.8),(148.6,56.4),(150.7,54.3),(152.9,52.2),(155.1,50.7),(156.5,51.6),(158.7,54.6),(160.9,56.7),(163,57.3),(165.2,54.0),(167.4,54.0),(169.6,53.1),(171.7,56.1),(173.9,59.0),(176.1,61.7),(178.3,57.6),(180.4,53.7),(182.6,54.3),(185.5,54.6),(187.7,56.4),(189.9,59.3),(191.8,59.9),(194.7,61.1),(196.9,60.8),(199.1,58.2),(201.3,55.5),(203.5,53.7),(205.6,52.8),(207.8,54.0),(210.7,54.0),(213.6,54.9),(216.6,53.7),(219.5,54.3),(222.4,53.4),(225.3,52.2),(228.2,53.1),(231.1,53.7),(234,52.2),(236.2,51.6),(238.4,55.5),(240.6,56.1),(242.8,52.8),(245,56.1),(247.1,60.8),(249.3,60.8),(251.5,56.1),(253.7,54.6),(258.8,54.6),(261.7,57.6),(263.9,61.7),(266.1,62.0),(268.3,57.6),(270.4,54.9),(273.3,54.0),(276.3,55.2),(278.4,59.0),(280.6,63.0),(281.8,65.0),(283.5,64.4),(286.2,57.3),(288,55.5),(291,55.0),(292.6,57.5),(294.3,62.1),(296.4,64.1),(298,65.3),(299.7,67.1),(301.3,64.1),(302.9,61.5),(304.5,60.9),(306.7,60.9),(308.8,60.6),(311,64.4),(312.6,71.9),(314.2,71.0),(315.9,68.9),(317.5,66.5),(319.1,65.0),(320.7,63.6),(322.3,63.3),(324,64.7),(326.1,68.9),(327.7,75.8),(328.8,77.0),(330.5,75.5),(332.1,71.0),(333.7,67.1),(335.3,66.5),(336.9,67.4),(338.6,66.2),(340.2,65.9),(341.8,64.1),(343.4,64.1),(345,70.1),(346.7,75.8),(348.8,76.1),(350.4,77.3),(352.1,77.9),(353.7,77.1),(355.3,74.0),(357,70.1),(358.5,68.3),(360,68.2)]

# ---------------- styling ----------------
FONT_NUM = "Liberation Serif, Noto Sans CJK JP, serif"
FONT_JP = "Noto Sans CJK JP, Liberation Serif, sans-serif"
GRID_DARK = "#8c8c8c"
GRID_LIGHT = "#c6c6c6"
FRAME_COLOR = "#9a9a9a"
PLOT_W = 1111
LINE_W = 4.6
X_SCALE = alt.Scale(domain=[0, 360], nice=False, zero=False)
X_LABEL_EXPR = ("datum.value % 30 === 0 ? (floor(datum.value / 60) + 10) + ':' + "
                "(datum.value % 60 === 0 ? '00' : '30') : ''")
LEGEND_LABEL_EXPR = "[substring(datum.label, 0, 2), substring(datum.label, 2)]"
FRAME_DF = pd.DataFrame({"k": [0]})
# legend symbols: a small nominal symbol size with wide path coordinates keeps the
# legend rows compact while the drawn swatch is 56 px wide
SYMBOL_LINE = "M-2.8,0H2.8"
SYMBOL_RECT = "M-2.8,-0.7H2.8V0.7H-2.8Z"


def x_axis():
    return alt.Axis(values=X_TICKS, title=None, grid=True,
                    gridColor={"condition": {"test": "datum.value % 30 === 0", "value": GRID_DARK},
                               "value": GRID_LIGHT},
                    gridWidth=1.5, ticks=False, domainColor=GRID_DARK, domainWidth=1.5,
                    labelExpr=X_LABEL_EXPR, labelFont=FONT_NUM, labelFontSize=25,
                    labelColor="#000000", labelPadding=21, labelFlush=False, labelOverlap=False)


def temp_y(title_y):
    return alt.Y("v:Q", scale=alt.Scale(domain=[26, 40], nice=False, zero=False),
                 axis=alt.Axis(values=TEMP_TICKS, format="d", title="気温（℃）", grid=True,
                               gridColor=GRID_DARK, gridWidth=1.5, ticks=False,
                               domainColor=GRID_DARK, domainWidth=1.5,
                               labelFont=FONT_NUM, labelFontSize=25, labelColor="#000000",
                               labelPadding=25, labelOverlap=False,
                               titleFont=FONT_JP, titleFontSize=24, titleFontWeight="normal",
                               titleColor="#000000", titleAngle=270, titleAlign="center",
                               titleBaseline="middle", titleX=-78, titleY=title_y))


def hum_y(title_x, title_y):
    return alt.Y("v:Q", scale=alt.Scale(domain=[30, 100], nice=False, zero=False),
                 axis=alt.Axis(orient="right", values=HUM_TICKS, format="d", title="湿度(%)",
                               grid=False, ticks=True, tickSize=10, tickColor=GRID_DARK,
                               tickWidth=1.5, domainColor=GRID_DARK, domainWidth=1.5,
                               labelFont=FONT_NUM, labelFontSize=25, labelColor="#000000",
                               labelPadding=17, labelOverlap=False,
                               titleFont=FONT_JP, titleFontSize=26, titleFontWeight="bold",
                               titleColor="#000000", titleAngle=270, titleAlign="center",
                               titleBaseline="middle", titleX=title_x, titleY=title_y))


def make_legend(legend_y, row_pad, symbol_type, **extra):
    return alt.Legend(orient="none", legendX=1169.5, legendY=legend_y, title=None,
                      padding=0, symbolOffset=0, labelOffset=20, rowPadding=row_pad,
                      symbolType=symbol_type, symbolSize=400, symbolStrokeWidth=5,
                      labelFont=FONT_JP, labelFontSize=25, labelColor="#000000",
                      labelExpr=LEGEND_LABEL_EXPR, **extra)


def make_panel(spray, rain, kinds, temps, hums, height, title, title_pos,
               left_title_y, right_title_x, right_title_y,
               fill_legend_y, stroke_legend_y, row_pad, frame):
    fill_legend = make_legend(fill_legend_y, row_pad, SYMBOL_RECT,
                              symbolStrokeColor="transparent", symbolOpacity=0.5)
    stroke_legend = make_legend(stroke_legend_y, row_pad, SYMBOL_LINE)
    stroke_enc = alt.Stroke("s:N", scale=alt.Scale(domain=SERIES, range=SERIES_COLORS),
                            legend=stroke_legend)

    band_rows = [{"start": a, "end": b, "kind": BAND_KINDS[0]} for a, b in spray] + \
                [{"start": a, "end": b, "kind": BAND_KINDS[1]} for a, b in rain]
    bands = alt.Chart(pd.DataFrame(band_rows)).mark_rect(opacity=0.5).encode(
        x=alt.X("start:Q", scale=X_SCALE, axis=x_axis()),
        x2=alt.X2("end"),
        fill=alt.Fill("kind:N",
                      scale=alt.Scale(domain=kinds, range=BAND_COLORS[:len(kinds)]),
                      legend=fill_legend))

    def line(points, name, ydef):
        df = pd.DataFrame(points, columns=["t", "v"])
        df["s"] = name
        return alt.Chart(df).mark_line(strokeWidth=LINE_W, strokeJoin="round", strokeCap="round").encode(
            x=alt.X("t:Q", scale=X_SCALE, axis=x_axis()), y=ydef, stroke=stroke_enc)

    ty = temp_y(left_title_y)
    hy = hum_y(right_title_x, right_title_y)
    day_title = alt.Chart(pd.DataFrame({"txt": [title]})).mark_text(
        font=FONT_NUM, fontSize=48, color="#000000", align="center", baseline="middle").encode(
        x=alt.datum(title_pos[0]), y=alt.datum(title_pos[1]), text="txt:N")

    temp_layer = alt.layer(line(temps[0], SERIES[0], ty), line(temps[1], SERIES[1], ty),
                           line(temps[2], SERIES[2], ty), day_title)
    hum_layer = alt.layer(line(hums[0], SERIES[3], hy), line(hums[1], SERIES[4], hy),
                          line(hums[2], SERIES[5], hy))
    return alt.layer(bands, *frame, temp_layer, hum_layer).resolve_scale(y="independent").properties(
        width=PLOT_W, height=height)


top_frame = [alt.Chart(FRAME_DF).mark_rect(filled=False, stroke=FRAME_COLOR, strokeWidth=1.2).encode(
    x=alt.value(-99), x2=alt.value(1279), y=alt.value(-40), y2=alt.value(866))]
bottom_frame = [
    alt.Chart(FRAME_DF).mark_rule(stroke=FRAME_COLOR, strokeWidth=1.2).encode(
        x=alt.value(-99), x2=alt.value(1279), y=alt.value(-33)),
    alt.Chart(FRAME_DF).mark_rule(stroke=FRAME_COLOR, strokeWidth=1.2).encode(
        x=alt.value(-99), y=alt.value(-33), y2=alt.value(848)),
    alt.Chart(FRAME_DF).mark_rule(stroke=FRAME_COLOR, strokeWidth=1.2).encode(
        x=alt.value(1279), y=alt.value(-33), y2=alt.value(848)),
]

top = make_panel(AUG8_SPRAY, AUG8_RAIN, BAND_KINDS,
                 [AUG8_TEMP_OUT, AUG8_TEMP_A, AUG8_TEMP_B], [AUG8_HUM_OUT, AUG8_HUM_A, AUG8_HUM_B],
                 775, DAY_TITLES[0], (189.2, 39.78), 75, 92, 54, 305.5, 434.5, 4.2, top_frame)
bottom = make_panel(AUG9_SPRAY, AUG9_RAIN, BAND_KINDS[:1],
                    [AUG9_TEMP_OUT, AUG9_TEMP_A, AUG9_TEMP_B], [AUG9_HUM_OUT, AUG9_HUM_A, AUG9_HUM_B],
                    782, DAY_TITLES[1], (190.7, 39.69), 92, 89, 76, 384.5, 447.5, 3.0, bottom_frame)

chart = alt.vconcat(top, bottom, spacing=3).resolve_scale(
    fill="independent", stroke="independent").properties(
    padding={"left": 0, "top": 0, "right": 0, "bottom": 0}, background="#ffffff").configure(
    view=alt.ViewConfig(stroke="transparent"),
    style={"guide-label": {"lineHeight": 35}})

chart.save("out.html", embed_options={"renderer": "svg", "actions": False})
